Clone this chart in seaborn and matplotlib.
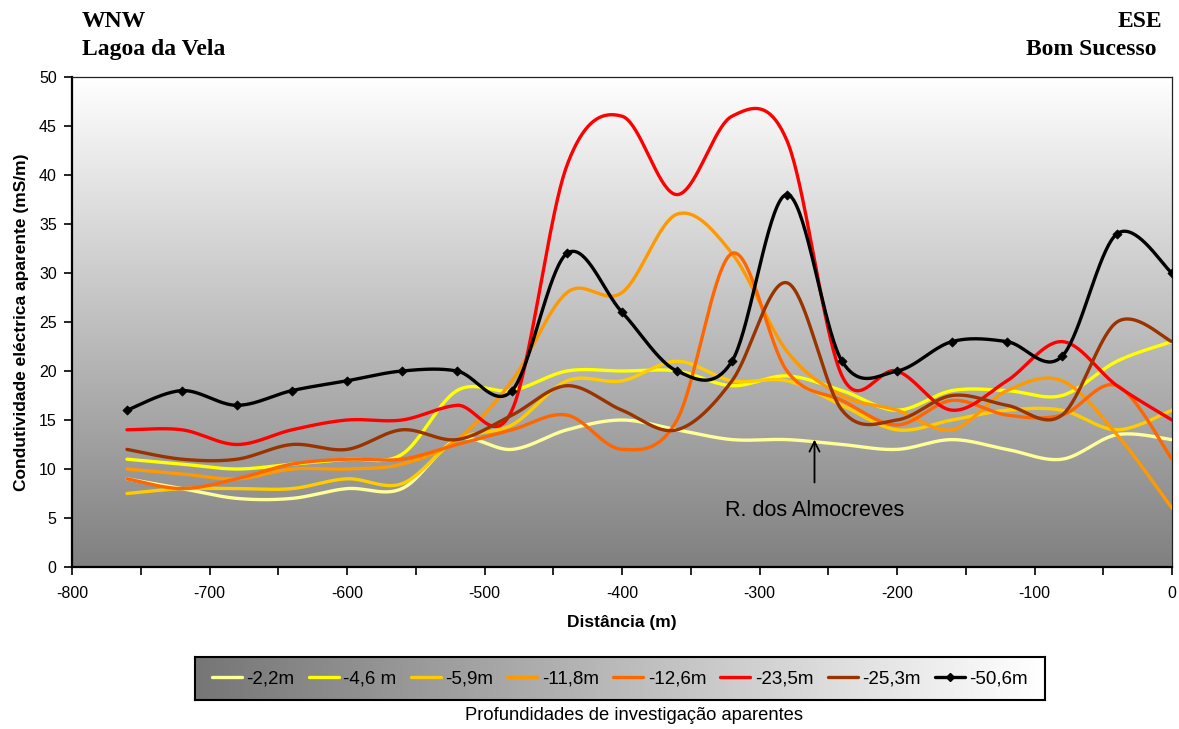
import numpy as np
import pandas as pd
import matplotlib
matplotlib.use("Agg")
import matplotlib.pyplot as plt
import seaborn as sns
from matplotlib.colors import LinearSegmentedColormap
from matplotlib.lines import Line2D
from matplotlib.ticker import MultipleLocator

# Profile positions (m)
distance = [-760, -720, -680, -640, -600, -560, -520, -480, -440, -400,
            -360, -320, -280, -240, -200, -160, -120, -80, -40, 0]

# Apparent electrical conductivity (mS/m) per apparent investigation depth
d_2_2 = [9, 8, 7, 7, 8, 8, 13, 12, 14, 15, 14, 13, 13, 12.5, 12, 13, 12, 11, 13.5, 13]
d_4_6 = [11, 10.5, 10, 10.5, 11, 11.5, 18, 18, 20, 20, 20, 18.5, 19.5, 18, 16, 18, 18, 17.5, 21, 23]
d_5_9 = [7.5, 8, 8, 8, 9, 8.5, 13, 14.5, 19, 19, 21, 19, 19, 16.5, 14, 15, 16, 16, 14, 16]
d_11_8 = [10, 9.5, 9, 10, 10, 10.5, 13, 19, 28, 28, 36, 32, 22, 17.5, 16, 14, 18, 19, 13.5, 6]
d_12_6 = [9, 8, 9, 10.5, 11, 11, 12.5, 14, 15.5, 12, 15, 32, 20, 17, 14.5, 17, 15.5, 15.5, 18.5, 11]
d_23_5 = [14, 14, 12.5, 14, 15, 15, 16.5, 16, 41, 46, 38, 46, 43.5, 19.5, 20, 16, 19, 23, 18.5, 15]
d_25_3 = [12, 11, 11, 12.5, 12, 14, 13, 15.5, 18.5, 16, 14, 19, 29, 16, 15, 17.5, 16.5, 15.5, 25, 23]
d_50_6 = [16, 18, 16.5, 18, 19, 20, 20, 18, 32, 26, 20, 21, 38, 21, 20, 23, 23, 21.5, 34, 30]

series_names = ["-2,2m", "-4,6 m", "-5,9m", "-11,8m", "-12,6m", "-23,5m", "-25,3m", "-50,6m"]
series_values = [d_2_2, d_4_6, d_5_9, d_11_8, d_12_6, d_23_5, d_25_3, d_50_6]
series_colors = ["#FFFF99", "#FFFF00", "#FFCC00", "#FF9900", "#FF6600", "#FF0000", "#993300", "#000000"]


def smooth_curve(x, y, n=40):
    """Piecewise cubic Bezier through the points (Catmull-Rom tangents)."""
    pts = np.column_stack([x, y]).astype(float)
    out = []
    t = np.linspace(0, 1, n)[:, None]
    for i in range(len(pts) - 1):
        p0 = pts[i - 1] if i > 0 else pts[i]
        p1 = pts[i]
        p2 = pts[i + 1]
        p3 = pts[i + 2] if i + 2 < len(pts) else pts[i + 1]
        c1 = p1 + (p2 - p0) / 6.0
        c2 = p2 - (p3 - p1) / 6.0
        seg = ((1 - t) ** 3) * p1 + 3 * ((1 - t) ** 2) * t * c1 + 3 * (1 - t) * t ** 2 * c2 + t ** 3 * p2
        out.append(seg if i == 0 else seg[1:])
    seg_all = np.vstack(out)
    return seg_all[:, 0], seg_all[:, 1]


frames = []
for name, vals in zip(series_names, series_values):
    sx, sy = smooth_curve(distance, vals)
    frames.append(pd.DataFrame({"dist": sx, "cond": sy, "depth": name}))
curves = pd.concat(frames, ignore_index=True)

sns.set_style("ticks")
plt.rcParams["font.family"] = ["Liberation Sans", "DejaVu Sans"]
plt.rcParams["axes.unicode_minus"] = False
plt.rcParams["text.color"] = "black"
plt.rcParams["axes.labelcolor"] = "black"
plt.rcParams["xtick.color"] = "black"
plt.rcParams["ytick.color"] = "black"

fig = plt.figure(figsize=(11.79, 7.29), dpi=100)
ax = fig.add_axes([72 / 1179, 1 - 567 / 729, 1100 / 1179, 490 / 729])

# Vertical grey gradient in the plot area
bg_cmap = LinearSegmentedColormap.from_list("bg", ["#808080", "#FFFFFF"])
grad = np.linspace(0, 1, 256)[:, None]
ax.imshow(grad, extent=[-800, 0, 0, 50], aspect="auto", cmap=bg_cmap,
          origin="lower", zorder=0, interpolation="bicubic")

palette = dict(zip(series_names, series_colors))
sns.lineplot(data=curves, x="dist", y="cond", hue="depth", palette=palette,
             hue_order=series_names, units="depth", estimator=None, sort=False,
             linewidth=2.4, legend=False, ax=ax, zorder=3)

markers_df = pd.DataFrame({"dist": distance, "cond": d_50_6})
sns.scatterplot(data=markers_df, x="dist", y="cond", marker="D", s=22,
                color="black", edgecolor="black", linewidth=0.5, ax=ax, zorder=4)

ax.set_xlim(-800, 0)
ax.set_ylim(0, 50)
ax.xaxis.set_major_locator(MultipleLocator(100))
ax.xaxis.set_minor_locator(MultipleLocator(50))
ax.yaxis.set_major_locator(MultipleLocator(5))
ax.tick_params(axis="both", which="both", direction="out", length=6, width=1.2,
               colors="black", labelsize=11.5)
ax.tick_params(axis="x", pad=8)
ax.tick_params(axis="y", pad=5)
for side in ["left", "bottom"]:
    ax.spines[side].set_linewidth(1.6)
    ax.spines[side].set_color("black")
for side in ["top", "right"]:
    ax.spines[side].set_linewidth(0.9)
    ax.spines[side].set_color("#222222")
ax.set_xlabel("Distância (m)", fontsize=12.5, fontweight="bold", labelpad=10)
ax.set_ylabel("Condutividade eléctrica aparente (mS/m)", fontsize=12.5, fontweight="bold", labelpad=7)

# Landmark annotation
ax.annotate("R. dos Almocreves", xy=(-260, 13), xytext=(-260, 5.8),
            ha="center", va="center", fontsize=15.5,
            arrowprops=dict(arrowstyle="->", color="black", lw=1.3,
                            shrinkA=10, shrinkB=0, mutation_scale=18))

# Profile ends
serif = ["Liberation Serif", "DejaVu Serif"]
fig.text(82 / 1179, 1 - 27 / 729, "WNW", family=serif, fontweight="bold", fontsize=17, ha="left", va="baseline")
fig.text(82 / 1179, 1 - 55 / 729, "Lagoa da Vela", family=serif, fontweight="bold", fontsize=17, ha="left", va="baseline")
fig.text(1162 / 1179, 1 - 27 / 729, "ESE", family=serif, fontweight="bold", fontsize=17, ha="right", va="baseline")
fig.text(1157 / 1179, 1 - 55 / 729, "Bom Sucesso", family=serif, fontweight="bold", fontsize=17, ha="right", va="baseline")

# Legend box with horizontal gradient
lax = fig.add_axes([195 / 1179, 1 - 700 / 729, 850 / 1179, 43 / 729])
leg_cmap = LinearSegmentedColormap.from_list("lg", ["#767676", "#FFFFFF"])
lax.imshow(np.linspace(0, 1, 256)[None, :], extent=[0, 1, 0, 1], aspect="auto",
           cmap=leg_cmap, interpolation="bicubic")
lax.set_xticks([])
lax.set_yticks([])
for sp in lax.spines.values():
    sp.set_linewidth(1.5)
    sp.set_color("black")

handles = []
for name, col in zip(series_names, series_colors):
    if col == "#000000":
        handles.append(Line2D([], [], color=col, lw=2.4, marker="D", markersize=4))
    else:
        handles.append(Line2D([], [], color=col, lw=2.4))
lax.legend(handles, series_names, loc="center", ncol=8, frameon=False,
           fontsize=13.5, handlelength=1.6, handletextpad=0.25, columnspacing=0.75,
           borderaxespad=0)

fig.text(634 / 1179, 1 - 716 / 729, "Profundidades de investigação aparentes",
         ha="center", va="center", fontsize=13.2)

fig.savefig("out.png", dpi=100, facecolor="white")
